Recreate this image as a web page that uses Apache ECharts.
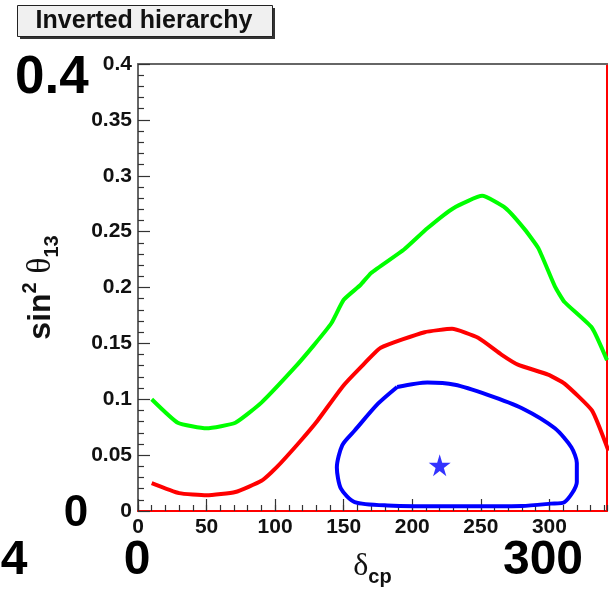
<!DOCTYPE html>
<html>
<head>
<meta charset="utf-8">
<script src="https://cdn.jsdelivr.net/npm/echarts@6/dist/echarts.min.js"></script>
<style>
  html, body { margin: 0; padding: 0; background: #fff; }
  #chart { width: 609px; height: 590px; }
</style>
</head>
<body>
<div id="chart"></div>
<script>
// contours: delta_cp (deg) vs sin^2 theta13
var greenDelta = [10, 29, 50, 71, 90, 114, 128, 141, 150, 162, 170, 194, 211, 230, 251, 268, 282, 292, 304, 311, 331, 342];
var greenSin = [0.100, 0.079, 0.074, 0.079, 0.097, 0.128, 0.148, 0.168, 0.189, 0.202, 0.213, 0.234, 0.253, 0.271, 0.282, 0.271, 0.252, 0.235, 0.201, 0.187, 0.164, 0.135];

var redDelta = [10, 30, 50, 71, 90, 101, 118, 131, 149, 162, 177, 209, 229, 248, 265, 277, 299, 311, 331, 343];
var redSin = [0.025, 0.016, 0.014, 0.017, 0.027, 0.039, 0.062, 0.081, 0.111, 0.128, 0.146, 0.160, 0.163, 0.155, 0.140, 0.131, 0.122, 0.114, 0.090, 0.054];

var blueDelta = [189, 211, 231, 255, 280, 304, 316, 320, 320, 311, 301, 280, 231, 182, 158, 148, 145, 149, 158, 175, 189];
var blueSin = [0.111, 0.115, 0.113, 0.104, 0.092, 0.074, 0.057, 0.043, 0.026, 0.008, 0.0066, 0.0045, 0.0042, 0.005, 0.008, 0.020, 0.039, 0.059, 0.072, 0.096, 0.111];

var bestFit = [[220, 0.041]];

// stray big labels printed over the frame
var bigLabels = ['0.4', '0', '4', '0', '300'];

var xMax = 342;
var yMax = 0.4;

function pairs(xs, ys) {
  return xs.map(function (x, i) { return [x, ys[i]]; });
}

var font = 'Liberation Sans';
var starPath = 'path://M50,0 L61,35 L98,35 L68,57 L79,91 L50,70 L21,91 L32,57 L2,35 L39,35 Z';

var myChart = echarts.init(document.getElementById('chart'), null, { renderer: 'canvas' });

var option = {
  backgroundColor: '#fff',
  animation: false,
  grid: {
    left: 138,
    right: 2,
    top: 64,
    bottom: 79,
    outerBoundsMode: 'none'
  },
  xAxis: [
    {
      type: 'value',
      position: 'bottom',
      min: 0,
      max: xMax,
      interval: 50,
      axisLine: { show: true, onZero: false, lineStyle: { color: '#ff0000', width: 2 } },
      axisTick: { show: true, inside: true, length: 12, lineStyle: { color: '#333', width: 1.2 } },
      axisLabel: {
        show: true, showMaxLabel: false, margin: 6,
        color: '#111', fontFamily: font, fontWeight: 'bold', fontSize: 21
      },
      splitLine: { show: false },
      name: '{g|δ}{s|cp}',
      nameLocation: 'middle',
      nameGap: 40,
      nameTextStyle: {
        rich: {
          g: { fontFamily: 'Liberation Serif', fontSize: 32, color: '#111', lineHeight: 36, verticalAlign: 'top' },
          s: { fontFamily: font, fontWeight: 'bold', fontSize: 20, color: '#111', lineHeight: 36, verticalAlign: 'bottom', padding: [14, 0, 0, 0] }
        }
      }
    },
    {
      // minor ticks every 10
      type: 'value',
      position: 'bottom',
      min: 0,
      max: xMax,
      interval: 10,
      axisLine: { show: false, onZero: false },
      axisTick: { show: true, inside: true, length: 6, lineStyle: { color: '#333', width: 1.2 } },
      axisLabel: { show: false },
      splitLine: { show: false }
    },
    {
      type: 'value',
      position: 'top',
      min: 0,
      max: xMax,
      axisLine: { show: true, onZero: false, lineStyle: { color: '#666', width: 2 } },
      axisTick: { show: false },
      axisLabel: { show: false },
      splitLine: { show: false }
    }
  ],
  yAxis: [
    {
      type: 'value',
      position: 'left',
      min: 0,
      max: yMax,
      interval: 0.05,
      axisLine: { show: true, onZero: false, lineStyle: { color: '#666', width: 2 } },
      axisTick: { show: true, inside: true, length: 12, lineStyle: { color: '#333', width: 1.2 } },
      minorTick: { show: true, splitNumber: 5, length: 6, lineStyle: { color: '#333', width: 1.2 } },
      axisLabel: {
        show: true, margin: 6,
        color: '#111', fontFamily: font, fontWeight: 'bold', fontSize: 21
      },
      splitLine: { show: false },
      minorSplitLine: { show: false },
      name: '{b|sin}{sup|2}{b| }{g|θ}{sub|13}',
      nameLocation: 'middle',
      nameRotate: 90,
      nameGap: 76,
      nameTextStyle: {
        rich: {
          b: { fontFamily: font, fontWeight: 'bold', fontSize: 32, color: '#111', lineHeight: 42, verticalAlign: 'middle' },
          sup: { fontFamily: font, fontWeight: 'bold', fontSize: 20, color: '#111', lineHeight: 42, verticalAlign: 'top' },
          g: { fontFamily: 'Liberation Serif', fontSize: 33, color: '#111', lineHeight: 42, verticalAlign: 'middle' },
          sub: { fontFamily: font, fontWeight: 'bold', fontSize: 20, color: '#111', lineHeight: 42, verticalAlign: 'bottom' }
        }
      }
    },
    {
      type: 'value',
      position: 'right',
      min: 0,
      max: yMax,
      axisLine: { show: true, onZero: false, lineStyle: { color: '#ff0000', width: 2 } },
      axisTick: { show: false },
      axisLabel: { show: false },
      splitLine: { show: false }
    }
  ],
  series: [
    {
      name: 'green',
      type: 'line',
      data: pairs(greenDelta, greenSin),
      showSymbol: false,
      symbol: 'none',
      smooth: 0.15,
      lineStyle: { color: '#00ff00', width: 4 }
    },
    {
      name: 'red',
      type: 'line',
      data: pairs(redDelta, redSin),
      showSymbol: false,
      symbol: 'none',
      smooth: 0.15,
      lineStyle: { color: '#ff0000', width: 4 }
    },
    {
      name: 'blue',
      type: 'line',
      data: pairs(blueDelta, blueSin),
      showSymbol: false,
      symbol: 'none',
      smooth: 0.25,
      lineStyle: { color: '#0000ff', width: 4 }
    },
    {
      name: 'best fit',
      type: 'scatter',
      data: bestFit,
      symbol: starPath,
      symbolSize: 22,
      itemStyle: { color: '#0000ff' }
    }
  ],
  graphic: [
    // title box with shadow
    { type: 'rect', left: 20, top: 8, shape: { width: 255, height: 31 }, style: { fill: '#333' }, z: 100 },
    { type: 'rect', left: 17, top: 5, shape: { width: 255, height: 31 }, style: { fill: '#f0f0f0', stroke: '#222', lineWidth: 1 }, z: 101 },
    {
      type: 'text', z: 102,
      style: { x: 144, y: 21, text: 'Inverted hierarchy', textAlign: 'center', textVerticalAlign: 'middle',
        font: 'bold 25px "Liberation Sans"', fill: '#111' }
    },
    {
      type: 'text', z: 102,
      style: { x: 15, y: 78, text: bigLabels[0], textAlign: 'left', textVerticalAlign: 'middle',
        font: 'bold 53px "Liberation Sans"', fill: '#000' }
    },
    {
      type: 'text', z: 102,
      style: { x: 76, y: 514, text: bigLabels[1], textAlign: 'center', textVerticalAlign: 'middle',
        font: 'bold 44px "Liberation Sans"', fill: '#000' }
    },
    {
      type: 'text', z: 102,
      style: { x: 14, y: 561, text: bigLabels[2], textAlign: 'center', textVerticalAlign: 'middle',
        font: 'bold 48px "Liberation Sans"', fill: '#000' }
    },
    {
      type: 'text', z: 102,
      style: { x: 137, y: 561, text: bigLabels[3], textAlign: 'center', textVerticalAlign: 'middle',
        font: 'bold 48px "Liberation Sans"', fill: '#000' }
    },
    {
      type: 'text', z: 102,
      style: { x: 543, y: 561, text: bigLabels[4], textAlign: 'center', textVerticalAlign: 'middle',
        font: 'bold 48px "Liberation Sans"', fill: '#000' }
    }
  ]
};

myChart.setOption(option);
</script>
</body>
</html>
